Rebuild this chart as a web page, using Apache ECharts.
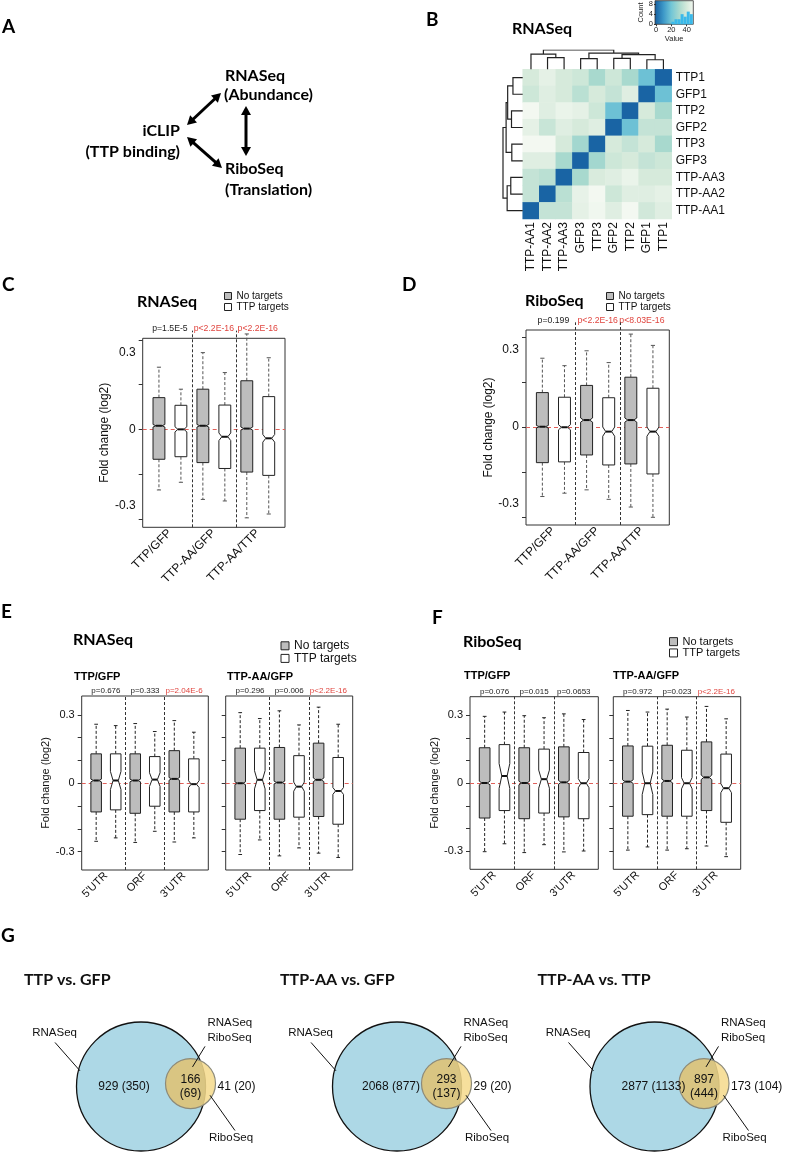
<!DOCTYPE html>
<html>
<head>
<meta charset="utf-8">
<script src="https://cdn.jsdelivr.net/npm/echarts@6/dist/echarts.min.js"></script>
<style>
  html, body { margin: 0; padding: 0; background: #fff; }
  #main { width: 787px; height: 1155px; }
</style>
</head>
<body>
<div id="main"></div>
<script>
// ---------- data ----------
const comparisons = ['TTP/GFP', 'TTP-AA/GFP', 'TTP-AA/TTP'];
const regions = ["5'UTR", 'ORF', "3'UTR"];

// box stats: [lower whisker, Q1, median, Q3, upper whisker, notch half-height]
const rnaNoTargets = [
  [-0.237, -0.117, 0.014, 0.124, 0.243, 0.005],
  [-0.274, -0.130, 0.014, 0.157, 0.300, 0.005],
  [-0.346, -0.167, 0.003, 0.190, 0.373, 0.006]
];
const rnaTtpTargets = [
  [-0.207, -0.107, 0.000, 0.094, 0.157, 0.010],
  [-0.280, -0.153, -0.029, 0.095, 0.222, 0.015],
  [-0.331, -0.180, -0.035, 0.128, 0.280, 0.015]
];
const rnaPValues = ['p=1.5E-5', 'p<2.2E-16', 'p<2.2E-16'];
const rnaSignificant = [false, true, true];

const riboNoTargets = [
  [-0.271, -0.139, 0.001, 0.134, 0.268, 0.005],
  [-0.245, -0.109, 0.027, 0.162, 0.297, 0.008],
  [-0.312, -0.144, 0.027, 0.194, 0.362, 0.008]
];
const riboTtpTargets = [
  [-0.258, -0.136, -0.001, 0.116, 0.239, 0.010],
  [-0.282, -0.148, -0.018, 0.114, 0.251, 0.018],
  [-0.352, -0.183, -0.018, 0.151, 0.318, 0.018]
];
const riboPValues = ['p=0.199', 'p<2.2E-16', 'p<8.03E-16'];
const riboSignificant = [false, true, true];

// by transcript region
const rnaTtpGfpNo = [
  [-0.255, -0.126, 0.012, 0.129, 0.259, 0.006],
  [-0.260, -0.132, 0.012, 0.129, 0.262, 0.006],
  [-0.258, -0.126, 0.019, 0.143, 0.275, 0.006]
];
const rnaTtpGfpTtp = [
  [-0.240, -0.117, 0.012, 0.129, 0.253, 0.040],
  [-0.211, -0.101, 0.016, 0.117, 0.227, 0.030],
  [-0.240, -0.126, -0.004, 0.107, 0.224, 0.015]
];
const rnaTtpGfpP = ['p=0.676', 'p=0.333', 'p=2.04E-6'];
const rnaTtpGfpSig = [false, false, true];

const rnaAaGfpNo = [
  [-0.313, -0.158, 0.000, 0.154, 0.310, 0.006],
  [-0.319, -0.158, 0.003, 0.157, 0.318, 0.006],
  [-0.307, -0.146, 0.015, 0.176, 0.334, 0.008]
];
const rnaAaGfpTtp = [
  [-0.249, -0.120, 0.015, 0.154, 0.284, 0.040],
  [-0.284, -0.149, -0.015, 0.121, 0.256, 0.020],
  [-0.326, -0.180, -0.034, 0.113, 0.259, 0.015]
];
const rnaAaGfpP = ['p=0.296', 'p=0.006', 'p<2.2E-16'];
const rnaAaGfpSig = [false, false, true];

const riboTtpGfpNo = [
  [-0.303, -0.154, 0.001, 0.157, 0.296, 0.008],
  [-0.307, -0.157, 0.001, 0.157, 0.299, 0.008],
  [-0.304, -0.149, 0.004, 0.161, 0.307, 0.008]
];
const riboTtpGfpTtp = [
  [-0.268, -0.121, 0.032, 0.171, 0.315, 0.055],
  [-0.272, -0.132, 0.018, 0.151, 0.290, 0.040],
  [-0.300, -0.157, 0.000, 0.136, 0.282, 0.020]
];
const riboTtpGfpP = ['p=0.076', 'p=0.015', 'p=0.0653'];
const riboTtpGfpSig = [false, false, false];

const riboAaGfpNo = [
  [-0.296, -0.146, 0.007, 0.165, 0.322, 0.008],
  [-0.296, -0.146, 0.010, 0.168, 0.328, 0.008],
  [-0.278, -0.121, 0.026, 0.183, 0.340, 0.010]
];
const riboAaGfpTtp = [
  [-0.282, -0.139, 0.000, 0.164, 0.315, 0.050],
  [-0.290, -0.146, 0.000, 0.146, 0.293, 0.025],
  [-0.325, -0.173, -0.022, 0.129, 0.285, 0.020]
];
const riboAaGfpP = ['p=0.972', 'p=0.023', 'p<2.2E-16'];
const riboAaGfpSig = [false, false, true];

// heatmap (sample distances), leaves in dendrogram order
const heatSamples = ['TTP-AA1', 'TTP-AA2', 'TTP-AA3', 'GFP3', 'TTP3', 'GFP2', 'TTP2', 'GFP1', 'TTP1'];
// rows from top (TTP1) to bottom (TTP-AA1), columns left to right as heatSamples
const heatValues = [
  [40, 45, 40, 38, 30, 38, 30, 19, 0],
  [38, 43, 40, 34, 40, 36, 43, 0, 19],
  [50, 43, 47, 45, 38, 19, 0, 40, 30],
  [45, 37, 43, 40, 43, 0, 19, 36, 36],
  [50, 50, 40, 29, 0, 40, 36, 40, 30],
  [43, 43, 30, 0, 29, 38, 40, 36, 38],
  [36, 34, 0, 30, 41, 43, 47, 40, 40],
  [36, 0, 34, 46, 50, 38, 43, 43, 45],
  [0, 36, 36, 45, 49, 43, 50, 39, 43]
];
// hclust-style merges: negative = leaf (1-based), positive = earlier merge
const dendroMerges = [
  [-2, -3, 11.5], [-1, 1, 15], [-4, -5, 10.5], [-6, -7, 10.8],
  [-8, -9, 9.4], [4, 5, 14.5], [3, 6, 16], [2, 7, 19]
];
const histBins = [22, 26, 30, 34, 38, 42, 46];
const histCounts = [1, 2, 2, 4, 3, 5, 4];

// Venn counts: number (TTP targets)
const vennTitles = ['TTP vs. GFP', 'TTP-AA vs. GFP', 'TTP-AA vs. TTP'];
const rnaOnly = [929, 2068, 2877];
const rnaOnlyTargets = [350, 877, 1133];
const bothSets = [166, 293, 897];
const bothSetsTargets = [69, 137, 444];
const riboOnly = [41, 29, 173];
const riboOnlyTargets = [20, 20, 104];

// ---------- layout helpers ----------
const FONT = 'Liberation Sans';
const BOLD = 'bold 16px Lato';
const grids = [], xAxes = [], yAxes = [], series = [], legends = [], graphics = [];
const addGrid = g => (grids.push(g), grids.length - 1);
const addX = a => (xAxes.push(a), xAxes.length - 1);
const addY = a => (yAxes.push(a), yAxes.length - 1);
const heatColors = ['#1964a4', '#3d98c8', '#72c6d6', '#a8d9ce', '#d6eadb', '#f3f8f1'];

// ---------- B: heatmap ----------
const heatData = [];
heatValues.forEach((row, r) => row.forEach((v, c) => heatData.push([c, heatValues.length - 1 - r, v])));
const hg = addGrid({ left: 522.7, top: 69.3, width: 149, height: 149.7 });
const hx = addX({ gridIndex: hg, type: 'category', data: heatSamples, axisLine: { show: false }, axisTick: { show: false },
  axisLabel: { rotate: 90, fontSize: 12, fontFamily: FONT, color: '#111', margin: 3 } });
const hy = addY({ gridIndex: hg, type: 'category', data: heatSamples, position: 'right', axisLine: { show: false }, axisTick: { show: false },
  axisLabel: { fontSize: 12, fontFamily: FONT, color: '#111', margin: 4 } });
series.push({ type: 'heatmap', xAxisIndex: hx, yAxisIndex: hy, data: heatData, silent: true });

function dendroPaths(merges, swap) {
  const pos = [], ht = [], out = [];
  const get = c => c < 0 ? [-c - 1, 0] : [pos[c - 1], ht[c - 1]];
  merges.forEach(([a, b, h], i) => {
    const [pa, ha] = get(a), [pb, hb] = get(b);
    const pts = [[pa, ha], [pa, h], [pb, h], [pb, hb]];
    out.push({ coords: swap ? pts.map(p => [p[1], p[0]]) : pts });
    pos[i] = (pa + pb) / 2; ht[i] = h;
  });
  return out;
}
const tg = addGrid({ left: 522.7, top: 50, width: 149, height: 19.3 });
const tx = addX({ gridIndex: tg, type: 'value', min: -0.5, max: 8.5, show: false });
const ty = addY({ gridIndex: tg, type: 'value', min: 0, max: 19, show: false });
series.push({ type: 'lines', coordinateSystem: 'cartesian2d', xAxisIndex: tx, yAxisIndex: ty, polyline: true, silent: true,
  data: dendroPaths(dendroMerges, false), lineStyle: { color: '#222', width: 1.2, opacity: 1 } });
const lg = addGrid({ left: 503, top: 69.3, width: 19.7, height: 149.7 });
const lx = addX({ gridIndex: lg, type: 'value', min: 0, max: 19, inverse: true, show: false });
const ly = addY({ gridIndex: lg, type: 'value', min: -0.5, max: 8.5, show: false });
series.push({ type: 'lines', coordinateSystem: 'cartesian2d', xAxisIndex: lx, yAxisIndex: ly, polyline: true, silent: true,
  data: dendroPaths(dendroMerges, true), lineStyle: { color: '#222', width: 1.2, opacity: 1 } });

// colour key
const KEY_MIN = -1.3, KEY_MAX = 48.6;
const kg = addGrid({ left: 655, top: 0, width: 38.3, height: 24.3, show: true, borderColor: '#333', borderWidth: 0.8,
  backgroundColor: { type: 'linear', x: 0, y: 0, x2: 1, y2: 0,
    colorStops: heatColors.map((c, i) => ({ offset: Math.min(1, Math.max(0, (i * 10 - KEY_MIN) / (KEY_MAX - KEY_MIN))), color: c })) } });
const keySmall = { fontSize: 7.5, fontFamily: FONT, color: '#222' };
const kx = addX({ gridIndex: kg, type: 'value', min: KEY_MIN, max: KEY_MAX, axisLine: { show: false }, splitLine: { show: false },
  axisTick: { customValues: [0, 20, 40], length: 2, lineStyle: { color: '#333' } },
  axisLabel: Object.assign({ customValues: [0, 20, 40], margin: 2 }, keySmall),
  name: 'Value', nameLocation: 'middle', nameGap: 11, nameTextStyle: keySmall });
const ky = addY({ gridIndex: kg, type: 'value', min: 0, max: 9.3, axisLine: { show: false }, splitLine: { show: false },
  axisTick: { customValues: [0, 4, 8], length: 2, lineStyle: { color: '#333' } },
  axisLabel: Object.assign({ customValues: [0, 4, 8], margin: 2 }, keySmall),
  name: 'Count', nameLocation: 'middle', nameGap: 8, nameTextStyle: keySmall });
series.push({ type: 'bar', xAxisIndex: kx, yAxisIndex: ky, data: histBins.map((b, i) => [b, histCounts[i]]),
  barWidth: 3, itemStyle: { color: '#3ab9ea' }, silent: true });

// ---------- C-F: notched box plots ----------
const X_MIN = 0.26, X_MAX = 6.74, PAIRS = [1.5, 3.5, 5.5], BOX_HALF = 0.27;
const pairIdx = v => Math.round((parseFloat(v) - 1.5) / 2);

function boxRenderer(fill, whisker) {
  return function (params, api) {
    const x = api.value(0), lo = api.value(1), q1 = api.value(2), md = api.value(3), q3 = api.value(4), hi = api.value(5), n = api.value(6);
    const hw = BOX_HALF, sw = hw * 0.35;
    const p = (a, b) => api.coord([a, b]);
    const seg = (a, b) => ({ x1: a[0], y1: a[1], x2: b[0], y2: b[1] });
    const dash = { stroke: whisker, lineWidth: 1, lineDash: [3, 2] };
    const solid = { stroke: whisker, lineWidth: 1 };
    const poly = [p(x - hw, q1), p(x - hw, md - n), p(x - hw / 2, md), p(x - hw, md + n), p(x - hw, q3),
      p(x + hw, q3), p(x + hw, md + n), p(x + hw / 2, md), p(x + hw, md - n), p(x + hw, q1)];
    return { type: 'group', children: [
      { type: 'line', shape: seg(p(x, q3), p(x, hi)), style: dash },
      { type: 'line', shape: seg(p(x, q1), p(x, lo)), style: dash },
      { type: 'line', shape: seg(p(x - sw, hi), p(x + sw, hi)), style: solid },
      { type: 'line', shape: seg(p(x - sw, lo), p(x + sw, lo)), style: solid },
      { type: 'polygon', shape: { points: poly }, style: { fill: fill, stroke: '#222', lineWidth: 1 } },
      { type: 'line', shape: seg(p(x - hw / 2, md), p(x + hw / 2, md)), style: { stroke: '#111', lineWidth: 2 } }
    ] };
  };
}

const boxPanels = [
  { left: 142.7, top: 338.3, width: 142.3, height: 189, y: [-0.383, 0.356], ticks: [-0.35, -0.175, 0, 0.175, 0.35],
    no: rnaNoTargets, ttp: rnaTtpTargets, p: rnaPValues, sig: rnaSignificant, cats: comparisons,
    fs: 12, pfs: 8.7, pm: 5, labels: true, nameGap: 24, whisker: '#555', sepExtra: 0.03 },
  { left: 526, top: 330, width: 143.3, height: 195, y: [-0.382, 0.378], ticks: [-0.35, -0.175, 0, 0.175, 0.35],
    no: riboNoTargets, ttp: riboTtpTargets, p: riboPValues, sig: riboSignificant, cats: comparisons,
    fs: 12, pfs: 8.7, pm: 5, labels: true, nameGap: 24, whisker: '#555', sepExtra: 0.03 },
  { left: 81.7, top: 696, width: 126.6, height: 174, y: [-0.381, 0.383], ticks: [-0.3, -0.2, -0.1, 0, 0.1, 0.2, 0.3],
    no: rnaTtpGfpNo, ttp: rnaTtpGfpTtp, p: rnaTtpGfpP, sig: rnaTtpGfpSig, cats: regions,
    fs: 11, pfs: 8, pm: 1, labels: true, nameGap: 22, whisker: '#222', sepExtra: 0 },
  { left: 225.7, top: 696, width: 127, height: 174, y: [-0.381, 0.383], ticks: [-0.3, -0.2, -0.1, 0, 0.1, 0.2, 0.3],
    no: rnaAaGfpNo, ttp: rnaAaGfpTtp, p: rnaAaGfpP, sig: rnaAaGfpSig, cats: regions,
    fs: 11, pfs: 8, pm: 1, labels: false, nameGap: 22, whisker: '#222', sepExtra: 0 },
  { left: 470, top: 696.7, width: 128.3, height: 172.6, y: [-0.381, 0.383], ticks: [-0.3, -0.2, -0.1, 0, 0.1, 0.2, 0.3],
    no: riboTtpGfpNo, ttp: riboTtpGfpTtp, p: riboTtpGfpP, sig: riboTtpGfpSig, cats: regions,
    fs: 11, pfs: 8, pm: 1, labels: true, nameGap: 21, whisker: '#222', sepExtra: 0 },
  { left: 613.3, top: 696.7, width: 127.4, height: 172.6, y: [-0.381, 0.383], ticks: [-0.3, -0.2, -0.1, 0, 0.1, 0.2, 0.3],
    no: riboAaGfpNo, ttp: riboAaGfpTtp, p: riboAaGfpP, sig: riboAaGfpSig, cats: regions,
    fs: 11, pfs: 8, pm: 1, labels: false, nameGap: 21, whisker: '#222', sepExtra: 0 }
];

boxPanels.forEach(cfg => {
  const gi = addGrid({ left: cfg.left, top: cfg.top, width: cfg.width, height: cfg.height, show: true,
    borderColor: '#333', borderWidth: 1, backgroundColor: 'rgba(0,0,0,0)' });
  const xi = addX({ gridIndex: gi, type: 'value', min: X_MIN, max: X_MAX, axisLine: { show: false }, axisTick: { show: false },
    splitLine: { show: false },
    axisLabel: { customValues: PAIRS, formatter: v => cfg.cats[pairIdx(v)], rotate: 45, fontSize: cfg.fs, fontFamily: FONT, color: '#111', margin: 4 } });
  addX({ gridIndex: gi, type: 'value', position: 'top', min: X_MIN, max: X_MAX, axisLine: { show: false }, axisTick: { show: false },
    splitLine: { show: false },
    axisLabel: { customValues: PAIRS, formatter: v => cfg.p[pairIdx(v)], color: v => cfg.sig[pairIdx(v)] ? '#e0453f' : '#222',
      fontSize: cfg.pfs, fontFamily: FONT, margin: cfg.pm } });
  const yi = addY({ gridIndex: gi, type: 'value', min: cfg.y[0], max: cfg.y[1], axisLine: { show: false }, splitLine: { show: false },
    axisTick: { show: true, customValues: cfg.ticks, length: 4, lineStyle: { color: '#333' } },
    axisLabel: { show: cfg.labels, customValues: [-0.3, 0, 0.3], formatter: v => v === 0 ? '0' : v.toFixed(1),
      fontSize: cfg.fs, fontFamily: FONT, color: '#111', margin: 7 },
    name: cfg.labels ? 'Fold change (log2)' : '', nameLocation: 'middle', nameGap: cfg.nameGap,
    nameTextStyle: { fontSize: cfg.fs, fontFamily: FONT, color: '#111' } });
  series.push({ type: 'lines', coordinateSystem: 'cartesian2d', xAxisIndex: xi, yAxisIndex: yi, silent: true, z: 1,
    data: [{ coords: [[X_MIN, 0], [X_MAX, 0]] }], lineStyle: { color: '#e0605a', width: 1, type: [4, 3], opacity: 1 } });
  series.push({ type: 'lines', coordinateSystem: 'cartesian2d', xAxisIndex: xi, yAxisIndex: yi, silent: true, z: 1, clip: false,
    data: [2.5, 4.5].map(s => ({ coords: [[s, cfg.y[0]], [s, cfg.y[1] + cfg.sepExtra]] })),
    lineStyle: { color: '#333', width: 1, type: [3, 2], opacity: 1 } });
  series.push({ type: 'custom', name: 'No targets', xAxisIndex: xi, yAxisIndex: yi, z: 3, silent: true,
    encode: { x: 0, y: [1, 2, 3, 4, 5] }, itemStyle: { color: '#bdbdbd' },
    data: cfg.no.map((s, k) => [2 * k + 1].concat(s)), renderItem: boxRenderer('#bdbdbd', cfg.whisker) });
  series.push({ type: 'custom', name: 'TTP targets', xAxisIndex: xi, yAxisIndex: yi, z: 3, silent: true,
    encode: { x: 0, y: [1, 2, 3, 4, 5] }, itemStyle: { color: '#ffffff' },
    data: cfg.ttp.map((s, k) => [2 * k + 2].concat(s)), renderItem: boxRenderer('#ffffff', cfg.whisker) });
});

const legendData = [
  { name: 'No targets', icon: 'rect', itemStyle: { color: '#bdbdbd', borderColor: '#222', borderWidth: 1 } },
  { name: 'TTP targets', icon: 'rect', itemStyle: { color: '#ffffff', borderColor: '#222', borderWidth: 1 } }
];
[[224, 290.5, 10, 7, 11], [606, 290.5, 10, 7, 11], [280.5, 639.5, 12, 8, 12.6], [669, 636, 11, 8, 11.3]].forEach(([l, t, fs, iw, lh]) => {
  legends.push({ left: l, top: t, orient: 'vertical', padding: 0, itemGap: 0, itemWidth: iw, itemHeight: iw, selectedMode: false,
    data: legendData, textStyle: { fontSize: fs, fontFamily: FONT, color: '#111', lineHeight: lh } });
});

// ---------- G: Venn diagrams ----------
const VENN_CX = [141, 397, 654.5], VENN_TOP = 1018;
const BLUE_R = 64.5, YEL = { dx: 49.5, dy: -3, r: 25 };
const rnaLabelDx = [-17, -6, -1];

function vennRenderer(i) {
  return function (params, api) {
    const c = api.coord([0, 0]);
    const rB = api.size([BLUE_R, 0])[0];
    const cy = api.coord([YEL.dx, YEL.dy]);
    const rY = api.size([YEL.r, 0])[0];
    // lens = yellow disc clipped by blue disc (rays from the yellow centre)
    const lens = [];
    const wx = cy[0] - c[0], wy = cy[1] - c[1];
    for (let k = 0; k < 180; k++) {
      const t = k / 180 * Math.PI * 2, ux = Math.cos(t), uy = Math.sin(t);
      const b = wx * ux + wy * uy;
      const toBlue = -b + Math.sqrt(b * b - (wx * wx + wy * wy - rB * rB));
      const d = Math.min(rY, toBlue);
      lens.push([cy[0] + d * ux, cy[1] + d * uy]);
    }
    const pt = (x, y) => api.coord([x, y]);
    const txt = (s, q, align, font) => ({ type: 'text', x: q[0], y: q[1],
      style: { text: s, font: font || '12px "Liberation Sans"', fill: '#111', textAlign: align || 'center', textVerticalAlign: 'middle' } });
    const ln = (a, b) => ({ type: 'line', shape: { x1: a[0], y1: a[1], x2: b[0], y2: b[1] }, style: { stroke: '#111', lineWidth: 1 } });
    const small = '11.5px "Liberation Sans"';
    return { type: 'group', children: [
      { type: 'circle', shape: { cx: c[0], cy: c[1], r: rB }, style: { fill: '#add8e6', stroke: '#111', lineWidth: 1.3 } },
      { type: 'circle', shape: { cx: cy[0], cy: cy[1], r: rY }, style: { fill: '#f5d98b', stroke: 'none', opacity: 0.85 } },
      { type: 'polygon', shape: { points: lens }, style: { fill: '#d6c27e', opacity: 0.88 } },
      { type: 'circle', shape: { cx: cy[0], cy: cy[1], r: rY }, style: { fill: 'none', stroke: '#8c8a7a', lineWidth: 1.2 } },
      txt(vennTitles[i], pt(-117, -109), 'left', BOLD),
      txt(rnaOnly[i] + ' (' + rnaOnlyTargets[i] + ')', pt(rnaLabelDx[i], 0)),
      txt(String(bothSets[i]), pt(YEL.dx, -7)),
      txt('(' + bothSetsTargets[i] + ')', pt(YEL.dx, 7)),
      txt(riboOnly[i] + ' (' + riboOnlyTargets[i] + ')', pt(YEL.dx + YEL.r + 2, 0), 'left'),
      txt('RNASeq', pt(-64, -55), 'right', small),
      txt('RNASeq', pt(66.5, -65), 'left', small),
      txt('RiboSeq', pt(66.5, -50), 'left', small),
      txt('RiboSeq', pt(68, 52), 'left', small),
      ln(pt(-86, -45), pt(-61, -16)),
      ln(pt(64, -41), pt(51.5, -20)),
      ln(pt(94, 45), pt(69, 9))
    ] };
  };
}
VENN_CX.forEach((cx, i) => {
  const gi = addGrid({ left: cx - 110, top: VENN_TOP, width: 240, height: 140 });
  const xi = addX({ gridIndex: gi, type: 'value', min: -110, max: 130, show: false });
  const yi = addY({ gridIndex: gi, type: 'value', min: -70, max: 70, inverse: true, show: false });
  series.push({ type: 'custom', xAxisIndex: xi, yAxisIndex: yi, silent: true, data: [[0, 0]], renderItem: vennRenderer(i) });
});

// ---------- A: schematic, panel letters, titles ----------
function text(s, x, y, font, align) {
  return { type: 'text', x: x, y: y, silent: true,
    style: { text: s, font: font, fill: '#000', textAlign: align || 'left', textVerticalAlign: 'middle' } };
}
function arrow(x1, y1, x2, y2) {
  const a = Math.atan2(y2 - y1, x2 - x1), L = 9, W = 5, ux = Math.cos(a), uy = Math.sin(a);
  const head = (x, y, dx, dy) => ({ type: 'polygon', silent: true,
    shape: { points: [[x, y], [x - L * dx - W * dy, y - L * dy + W * dx], [x - L * dx + W * dy, y - L * dy - W * dx]] }, style: { fill: '#000' } });
  return [
    { type: 'line', silent: true, shape: { x1: x1 + ux * (L - 1), y1: y1 + uy * (L - 1), x2: x2 - ux * (L - 1), y2: y2 - uy * (L - 1) },
      style: { stroke: '#000', lineWidth: 3 } },
    head(x2, y2, ux, uy), head(x1, y1, -ux, -uy)
  ];
}
const LETTER = 'bold 19px Lato';
graphics.push(
  text('A', 2, 27, LETTER), text('B', 426, 20, LETTER), text('C', 2, 285, LETTER), text('D', 402, 285, LETTER),
  text('E', 1, 612, LETTER), text('F', 432, 618, LETTER), text('G', 1, 936, LETTER),
  text('RNASeq', 225, 76, BOLD), text('(Abundance)', 224, 95, BOLD),
  text('iCLIP', 180, 131, BOLD, 'right'), text('(TTP binding)', 180, 152, BOLD, 'right'),
  text('RiboSeq', 225, 169, BOLD), text('(Translation)', 225, 190, BOLD),
  ...arrow(187, 125, 221, 93), ...arrow(187, 137, 222, 168), ...arrow(246, 106, 246, 156),
  text('RNASeq', 512, 29, BOLD), text('RNASeq', 137, 301.5, BOLD), text('RiboSeq', 525, 301, BOLD),
  text('RNASeq', 73, 640, BOLD), text('RiboSeq', 463, 642, BOLD),
  text('TTP/GFP', 74, 677, 'bold 11px "Liberation Sans"'), text('TTP-AA/GFP', 227, 677, 'bold 11px "Liberation Sans"'),
  text('TTP/GFP', 464, 676, 'bold 11px "Liberation Sans"'), text('TTP-AA/GFP', 613, 676, 'bold 11px "Liberation Sans"')
);

const chart = echarts.init(document.getElementById('main'));
chart.setOption({
  animation: false,
  backgroundColor: '#fff',
  grid: grids,
  xAxis: xAxes,
  yAxis: yAxes,
  legend: legends,
  visualMap: { show: false, type: 'continuous', min: 0, max: 50, dimension: 2, seriesIndex: 0, inRange: { color: heatColors } },
  graphic: graphics,
  series: series
});
</script>
</body>
</html>
